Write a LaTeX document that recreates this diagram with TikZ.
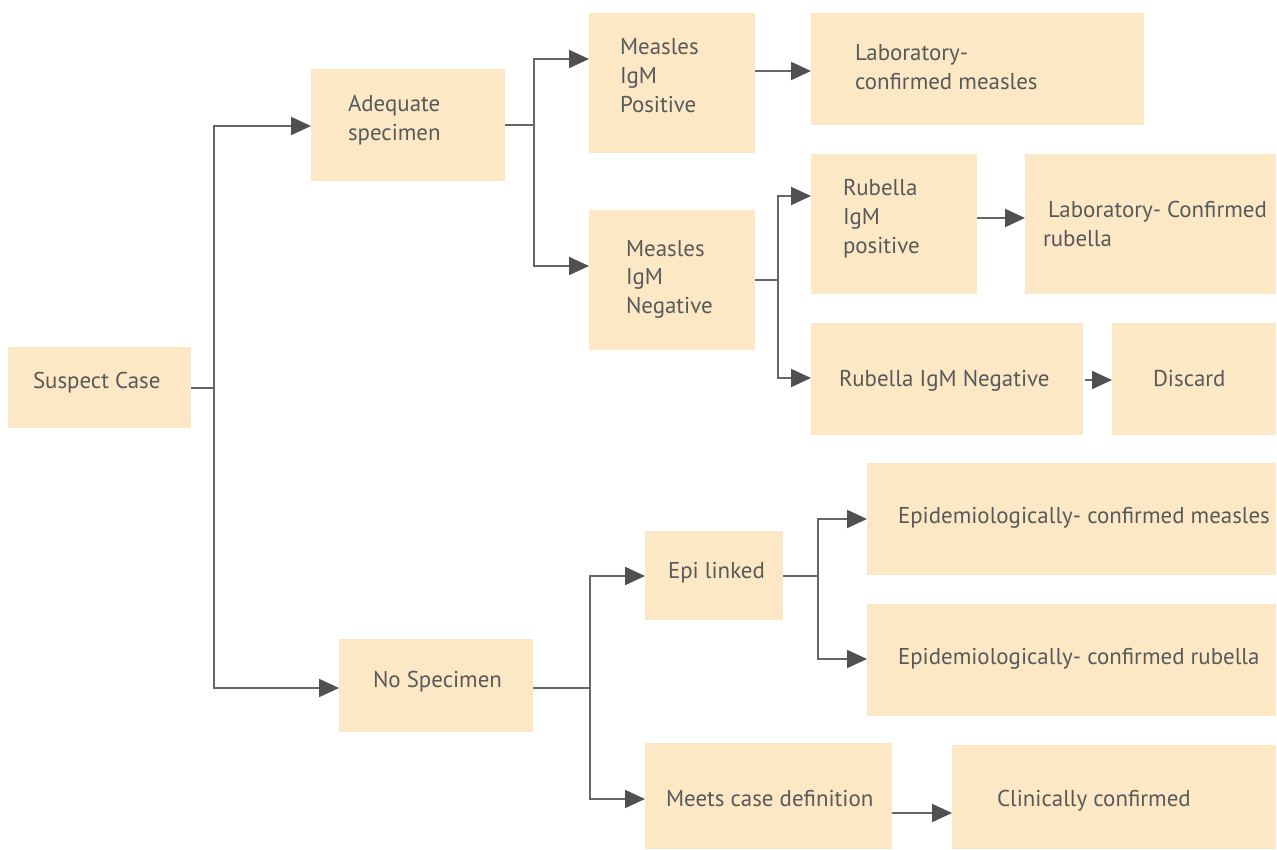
\documentclass[tikz,border=0pt]{standalone}
\usepackage{fontspec}
\setmainfont{PT Sans}
\usetikzlibrary{arrows.meta}
\definecolor{boxfill}{HTML}{FDE8C5}
\definecolor{txtcol}{HTML}{58595B}
\definecolor{lncol}{HTML}{666666}
\definecolor{tipcol}{HTML}{505050}
\tikzset{
  box/.style={draw=none, fill=boxfill, inner sep=0pt, outer sep=0pt},
  txt/.style={text=txtcol, inner sep=0pt, outer sep=0pt, align=left, anchor=base west,
    font=\fontsize{22.9}{29}\selectfont},
  ln/.style={draw=lncol, line width=2pt},
  arr/.style={ln, -{Triangle[length=20pt, width=18pt, fill=tipcol, color=tipcol]}},
}
\begin{document}
\begin{tikzpicture}[x=1pt, y=-1pt]
\useasboundingbox (0,0) rectangle (1277,850);
% boxes
\node[box, minimum width=183pt, minimum height=81pt] (sc) at (99.5,387.5) {};
\node[box, minimum width=194pt, minimum height=112pt] (ad) at (408,125) {};
\node[box, minimum width=166pt, minimum height=140pt] (mp) at (672,83) {};
\node[box, minimum width=333pt, minimum height=112pt] (lm) at (977.5,69) {};
\node[box, minimum width=166pt, minimum height=140pt] (mn) at (672,280) {};
\node[box, minimum width=166pt, minimum height=140pt] (rp) at (894,224) {};
\node[box, minimum width=251pt, minimum height=140pt] (lr) at (1150.5,224) {};
\node[box, minimum width=272pt, minimum height=112pt] (rn) at (947,379) {};
\node[box, minimum width=164pt, minimum height=112pt] (dc) at (1194,379) {};
\node[box, minimum width=138pt, minimum height=89pt] (el) at (714,575.5) {};
\node[box, minimum width=409pt, minimum height=112pt] (em) at (1071.5,519) {};
\node[box, minimum width=409pt, minimum height=112pt] (er) at (1071.5,660) {};
\node[box, minimum width=194pt, minimum height=93pt] (ns) at (436,685.5) {};
\node[box, minimum width=247pt, minimum height=106pt] (mc) at (768.5,796) {};
\node[box, minimum width=324pt, minimum height=104pt] (cc) at (1114,797) {};
% texts (base anchor = baseline of last line)
\node[txt] (tsc) at (33,388) {Suspect Case};
\node[txt] (tad) at (348,141) {Adequate\\specimen};
\node[txt] (tmp) at (620,113) {Measles\\IgM\\Positive};
\node[txt] (tlm) at (855,90) {Laboratory-\\confirmed measles};
\node[txt] (tmn) at (626,314) {Measles\\IgM\\Negative};
\node[txt] (trp) at (843,254) {Rubella\\IgM\\positive};
\node[txt] (tlr) at (1043,247) {\hspace*{5pt}Laboratory- Confirmed\\rubella};
\node[txt] (trn) at (839,386) {Rubella IgM Negative};
\node[txt] (tdc) at (1153,386) {Discard};
\node[txt] (tel) at (668,578) {Epi linked};
\node[txt] (tem) at (898,523) {Epidemiologically- confirmed measles};
\node[txt] (ter) at (898,664) {Epidemiologically- confirmed rubella};
\node[txt] (tns) at (373,687) {No Specimen};
\node[txt] (tmc) at (666,806) {Meets case definition};
\node[txt] (tcc) at (997,806) {Clinically confirmed};
% junctions
\coordinate (j1) at (214,387.5);
\coordinate (j2) at (534,125);
\coordinate (j3) at (778,280);
\coordinate (j4) at (590,688);
\coordinate (j5) at (818,576);
% connectors
\draw[ln] (sc.east) -- (j1);
\draw[arr] (j1) |- ([yshift=-1pt]ad.west);
\draw[arr] (j1) |- ([yshift=-2.5pt]ns.west);
\draw[ln] (ad.east) -- (j2);
\draw[arr] (j2) |- ([yshift=24pt]mp.west);
\draw[arr] (j2) |- ([yshift=14pt]mn.west);
\draw[arr] ([yshift=12pt]mp.east) -- ([yshift=-2pt]lm.west);
\draw[ln] (mn.east) -- (j3);
\draw[arr] (j3) |- ([yshift=28pt]rp.west);
\draw[arr] (j3) |- ([yshift=1pt]rn.west);
\draw[arr] ([yshift=6pt]rp.east) -- ([yshift=6pt]lr.west);
\draw[arr] ([yshift=-1pt,xshift=2pt]rn.east) -- ([yshift=-1pt]dc.west);
\draw[ln] ([yshift=-2.5pt]ns.east) -- (j4);
\draw[arr] (j4) |- ([yshift=-0.5pt]el.west);
\draw[arr] (j4) |- ([yshift=-3pt]mc.west);
\draw[ln] ([yshift=-0.5pt]el.east) -- (j5);
\draw[arr] (j5) |- (em.west);
\draw[arr] (j5) |- ([yshift=1pt]er.west);
\draw[arr] ([yshift=-17pt]mc.east) -- ([yshift=-16pt]cc.west);
\end{tikzpicture}
\end{document}
